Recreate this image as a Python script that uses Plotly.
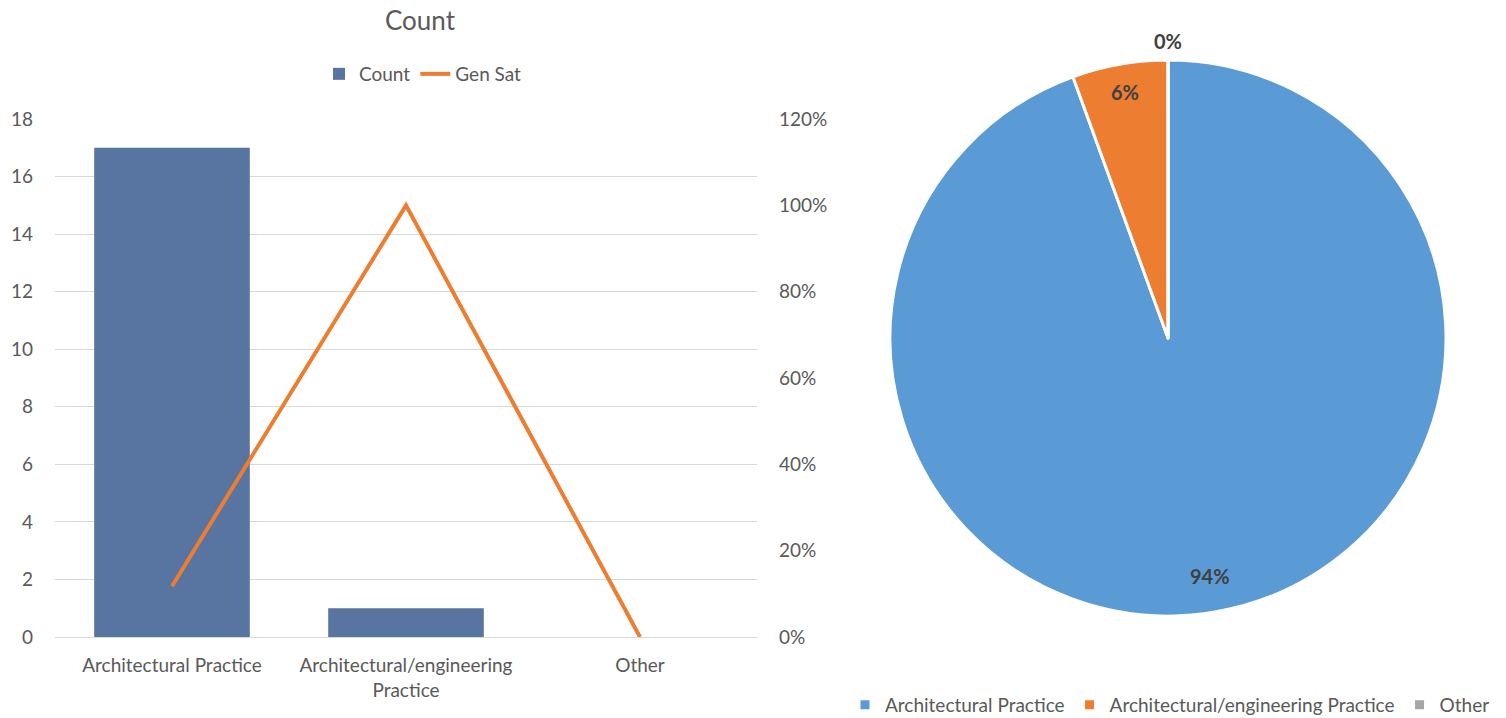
import math

import plotly.graph_objects as go

categories = ["Architectural Practice", "Architectural/engineering Practice", "Other"]
tick_labels = ["Architectural Practice", "Architectural/engineering<br>Practice", "Other"]
count_values = [17, 1, 0]
gen_sat_values = [0.1176, 1.0, 0.0]
pie_values = [17, 1, 0]
pie_colors = ["#5B9BD5", "#ED7D31", "#A5A5A5"]

FONT = "Lato, Open Sans, sans-serif"
TEXT_GREY = "#595959"
GRID = "#D9D9D9"

# the page body has an 8px margin, so the figure is drawn 8px in from the corner
OFF = 8
W, H = 1506 - OFF, 718 - OFF


def fx(px):
    return (px - OFF) / W


def fy(py):
    return 1 - (py - OFF) / H


# pie placement (window pixels)
PIE_CX, PIE_CY, PIE_R = 1168, 338, 278

fig = go.Figure()

fig.add_trace(
    go.Bar(
        x=tick_labels,
        y=count_values,
        name="Count",
        marker={"color": "#5874A1", "line": {"width": 0}},
        hoverinfo="skip",
    )
)
fig.add_trace(
    go.Scatter(
        x=tick_labels,
        y=gen_sat_values,
        name="Gen Sat",
        mode="lines",
        yaxis="y2",
        line={"color": "#ED7D31", "width": 4},
    )
)
fig.add_trace(
    go.Pie(
        labels=categories,
        values=pie_values,
        sort=False,
        direction="clockwise",
        rotation=0,
        marker={"colors": pie_colors, "line": {"color": "white", "width": 3}},
        textinfo="none",
        domain={
            "x": [fx(PIE_CX - PIE_R), fx(PIE_CX + PIE_R)],
            "y": [fy(PIE_CY + PIE_R), fy(PIE_CY - PIE_R)],
        },
        legend="legend2",
        showlegend=True,
        automargin=False,
    )
)

# data labels placed like Excel's best-fit labels
total = sum(pie_values)
label_radius = [0.87, 0.9, 1.07]
cumulative = 0
for value, k in zip(pie_values, label_radius):
    share = value / total
    theta = 2 * math.pi * (cumulative + share / 2)
    cumulative += share
    fig.add_annotation(
        x=fx(PIE_CX + PIE_R * k * math.sin(theta)),
        y=fy(PIE_CY - PIE_R * k * math.cos(theta)),
        xref="paper",
        yref="paper",
        xanchor="center",
        yanchor="middle",
        text=f"<b>{share:.0%}</b>",
        showarrow=False,
        font={"family": FONT, "size": 20, "color": "#404040"},
    )

fig.update_layout(
    width=W,
    height=H,
    margin={"l": 0, "r": 0, "t": 0, "b": 0, "autoexpand": False},
    paper_bgcolor="white",
    plot_bgcolor="white",
    font={"family": FONT, "size": 19, "color": TEXT_GREY},
    bargap=0.335,
    title={
        "text": "Count",
        "x": fx(420),
        "xanchor": "center",
        "y": 1.0,
        "yanchor": "top",
        "pad": {"t": 4},
        "font": {"size": 26, "color": TEXT_GREY},
    },
    xaxis={
        "domain": [fx(55), fx(757)],
        "showgrid": False,
        "showline": True,
        "linecolor": GRID,
        "linewidth": 1,
        "ticks": "",
        "ticklabelstandoff": 11,
        "tickfont": {"size": 19, "color": TEXT_GREY},
    },
    yaxis={
        "domain": [fy(637), fy(119)],
        "range": [0, 18],
        "dtick": 2,
        "showgrid": True,
        "gridcolor": GRID,
        "zeroline": False,
        "ticks": "",
        "ticklabelstandoff": 21,
        "tickfont": {"size": 19, "color": TEXT_GREY},
    },
    yaxis2={
        "overlaying": "y",
        "side": "right",
        "range": [0, 1.2],
        "dtick": 0.2,
        "tickformat": ".0%",
        "showgrid": False,
        "zeroline": False,
        "ticks": "",
        "ticklabelstandoff": 21,
        "tickfont": {"size": 19, "color": TEXT_GREY},
    },
    legend={
        "orientation": "h",
        "x": fx(423),
        "xanchor": "center",
        "y": fy(74),
        "yanchor": "middle",
        "font": {"size": 19, "color": TEXT_GREY},
        "bgcolor": "rgba(0,0,0,0)",
    },
    legend2={
        "orientation": "h",
        "x": fx(1170),
        "xanchor": "center",
        "y": fy(705),
        "yanchor": "middle",
        "font": {"size": 19, "color": TEXT_GREY},
        "bgcolor": "rgba(0,0,0,0)",
        "itemwidth": 30,
    },
)

fig.write_html("out.html")
